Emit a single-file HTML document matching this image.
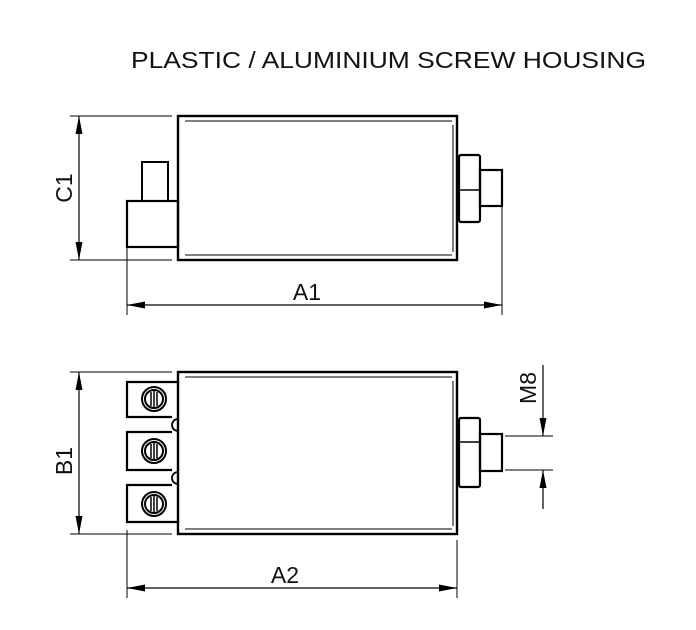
<!DOCTYPE html>
<html><head><meta charset="utf-8"><style>html,body{margin:0;padding:0;background:#fff}svg{display:block}</style></head>
<body>
<svg width="696" height="630" viewBox="0 0 696 630" xmlns="http://www.w3.org/2000/svg" font-family="Liberation Sans, sans-serif">
<defs>
<marker id="ar" viewBox="0 0 18 7" refX="18" refY="3.5" markerWidth="18" markerHeight="7" orient="auto" markerUnits="userSpaceOnUse"><path d="M0,0 L18,3.5 L0,7 z" fill="#000"/></marker>
</defs>
<text x="131" y="68" font-size="23" textLength="515" lengthAdjust="spacingAndGlyphs" fill="#111">PLASTIC / ALUMINIUM SCREW HOUSING</text>
<g stroke="#000" fill="none">
<rect x="178" y="116" width="279" height="144" stroke-width="2.4"/>
<line x1="185" y1="121" x2="452" y2="121" stroke-width="1"/>
<line x1="185" y1="255" x2="452" y2="255" stroke-width="1"/>
<line x1="453" y1="125" x2="453" y2="252" stroke-width="1"/>
<rect x="127" y="201" width="51" height="46" stroke-width="2.2"/>
<rect x="142" y="162" width="26" height="39" stroke-width="2"/>
<rect x="459" y="155" width="21" height="67" rx="2" stroke-width="2.2"/>
<line x1="459" y1="190" x2="480" y2="190" stroke-width="1.5"/>
<rect x="480" y="170" width="22" height="36" stroke-width="2.2"/>
<line x1="70" y1="116" x2="172" y2="116" stroke-width="1"/>
<line x1="70" y1="260" x2="172" y2="260" stroke-width="1"/>
<line x1="79" y1="188" x2="79" y2="116" stroke-width="1.2" marker-end="url(#ar)"/>
<line x1="79" y1="188" x2="79" y2="260" stroke-width="1.2" marker-end="url(#ar)"/>
<line x1="127" y1="247" x2="127" y2="315" stroke-width="1"/>
<line x1="502" y1="206" x2="502" y2="315" stroke-width="1"/>
<line x1="310" y1="305" x2="127" y2="305" stroke-width="1.2" marker-end="url(#ar)"/>
<line x1="310" y1="305" x2="502" y2="305" stroke-width="1.2" marker-end="url(#ar)"/>
<rect x="178" y="372" width="279" height="162" stroke-width="2.4"/>
<line x1="185" y1="377" x2="452" y2="377" stroke-width="1"/>
<line x1="185" y1="529" x2="452" y2="529" stroke-width="1"/>
<line x1="453" y1="381" x2="453" y2="526" stroke-width="1"/>
<path d="M178,382 H127 V417 H172 M172,432 H127 V470 H172 M172,485 H127 V522 H178" stroke-width="2.2"/>
<path d="M178,419 A6,6 0 0 0 178,431 M178,472 A6,6 0 0 0 178,484" stroke-width="1.8"/>
<g stroke-width="2">
<circle cx="154" cy="399" r="12"/><circle cx="154" cy="399" r="9"/>
<circle cx="154" cy="451" r="12"/><circle cx="154" cy="451" r="9"/>
<circle cx="154" cy="504" r="12"/><circle cx="154" cy="504" r="9"/>
</g>
<g stroke-width="1.5">
<path d="M151,392 V406 M154,391 V407 M157,392 V406"/>
<path d="M151,444 V458 M154,443 V459 M157,444 V458"/>
<path d="M151,497 V511 M154,496 V512 M157,497 V511"/>
</g>
<rect x="459" y="418" width="21" height="69" rx="2" stroke-width="2.2"/>
<line x1="459" y1="442" x2="480" y2="442" stroke-width="1.5"/>
<rect x="480" y="434" width="22" height="37" stroke-width="2.2"/>
<line x1="505" y1="436" x2="553" y2="436" stroke-width="1"/>
<line x1="505" y1="470" x2="553" y2="470" stroke-width="1"/>
<line x1="543" y1="365" x2="543" y2="436" stroke-width="1.2" marker-end="url(#ar)"/>
<line x1="543" y1="509" x2="543" y2="470" stroke-width="1.2" marker-end="url(#ar)"/>
<line x1="70" y1="372" x2="172" y2="372" stroke-width="1"/>
<line x1="70" y1="534" x2="172" y2="534" stroke-width="1"/>
<line x1="79" y1="453" x2="79" y2="372" stroke-width="1.2" marker-end="url(#ar)"/>
<line x1="79" y1="453" x2="79" y2="534" stroke-width="1.2" marker-end="url(#ar)"/>
<line x1="127" y1="530" x2="127" y2="598" stroke-width="1"/>
<line x1="457" y1="540" x2="457" y2="598" stroke-width="1"/>
<line x1="290" y1="588" x2="127" y2="588" stroke-width="1.2" marker-end="url(#ar)"/>
<line x1="290" y1="588" x2="457" y2="588" stroke-width="1.2" marker-end="url(#ar)"/>
</g>
<g font-size="23" fill="#111" text-anchor="middle">
<text x="307" y="300">A1</text>
<text x="285" y="583">A2</text>
<text transform="translate(72,188) rotate(-90)">C1</text>
<text transform="translate(72,461) rotate(-90)">B1</text>
<text transform="translate(536,388) rotate(-90)">M8</text>
</g>
</svg>
</body></html>
